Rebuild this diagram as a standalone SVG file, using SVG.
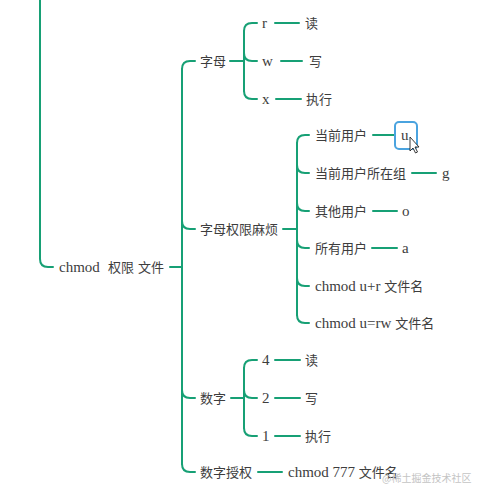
<svg xmlns="http://www.w3.org/2000/svg" width="477" height="488" viewBox="0 0 477 488">
<style>
.t{font-family:"Liberation Serif","Noto Sans CJK SC",serif;font-size:15px;fill:#3d3d3d}
.k{font-family:"Noto Sans CJK SC","Noto Sans",sans-serif;font-size:13px;fill:#3d3d3d}
.c path{fill:none;stroke:#17a075;stroke-width:2;stroke-linecap:round}
.wm{font-family:"Noto Sans CJK SC",sans-serif;font-size:10px;fill:#c4c4c4}
</style>
<rect width="477" height="488" fill="#fff"/>
<g class="c" id="connectors">
<path d="M40,0 L40,259 Q40,267 48,267 L53,267"/>
<path d="M170,267 L182,267"/>
<path d="M182,69 L182,464"/>
<path d="M182,69 Q182,61 190,61 L195,61"/>
<path d="M182,221 Q182,229 190,229 L195,229"/>
<path d="M182,390 Q182,398 190,398 L195,398"/>
<path d="M182,464 Q182,472 190,472 L195,472"/>
<path d="M230,61 L244,61"/>
<path d="M244,31 L244,91"/>
<path d="M244,31 Q244,23 252,23 L257,23"/>
<path d="M244,53 Q244,61 252,61 L257,61"/>
<path d="M244,91 Q244,99 252,99 L257,99"/>
<path d="M275,23 L299,23"/>
<path d="M281,61 L302,61"/>
<path d="M276,99 L301,99"/>
<path d="M283,229 L297,229"/>
<path d="M297,143 L297,315"/>
<path d="M297,143 Q297,135 305,135 L309,135"/>
<path d="M297,165 Q297,173 305,173 L309,173"/>
<path d="M297,203 Q297,211 305,211 L309,211"/>
<path d="M297,240 Q297,248 305,248 L309,248"/>
<path d="M297,278 Q297,286 305,286 L309,286"/>
<path d="M297,315 Q297,323 305,323 L309,323"/>
<path d="M373,135 L396,135"/>
<path d="M412,173 L436,173"/>
<path d="M373,211 L397,211"/>
<path d="M372,248 L397,248"/>
<path d="M231,398 L244,398"/>
<path d="M244,368 L244,428"/>
<path d="M244,368 Q244,360 252,360 L257,360"/>
<path d="M244,390 Q244,398 252,398 L257,398"/>
<path d="M244,428 Q244,436 252,436 L257,436"/>
<path d="M275,360 L300,360"/>
<path d="M275,398 L300,398"/>
<path d="M275,436 L300,436"/>
<path d="M258,472 L282,472"/>
</g>
<g id="root"><text class="t" x="59" y="272">chmod<tspan class="k" x="108">权限</tspan><tspan class="k" x="138">文件</tspan></text></g>
<g id="n-zimu"><text class="k" x="200" y="66">字母</text></g>
<g id="n-r"><text class="t" x="262" y="28">r</text></g>
<g id="n-r-du"><text class="k" x="305" y="28">读</text></g>
<g id="n-w"><text class="t" x="262" y="66">w</text></g>
<g id="n-w-xie"><text class="k" x="309" y="66">写</text></g>
<g id="n-x"><text class="t" x="262" y="104">x</text></g>
<g id="n-x-zx"><text class="k" x="306" y="104">执行</text></g>
<g id="n-zmqx"><text class="k" x="200" y="234">字母权限麻烦</text></g>
<g id="n-dqyh"><text class="k" x="315" y="140">当前用户</text></g>
<g id="n-u">
<rect x="395" y="122" width="22" height="27" rx="4" fill="#fff" stroke="#4aa3df" stroke-width="2"/>
<text class="t" x="401" y="140">u</text>
<path d="M410,137 L410,151 L413,148 L415.5,153 L417.5,152 L415,147 L419,147 Z" fill="#fff" stroke="#222" stroke-width="0.9" stroke-linejoin="round"/>
</g>
<g id="n-dqyhszz"><text class="k" x="315" y="178">当前用户所在组</text></g>
<g id="n-g"><text class="t" x="442" y="178">g</text></g>
<g id="n-qtyh"><text class="k" x="315" y="216">其他用户</text></g>
<g id="n-o"><text class="t" x="402" y="216">o</text></g>
<g id="n-syyh"><text class="k" x="315" y="253">所有用户</text></g>
<g id="n-a"><text class="t" x="402" y="253">a</text></g>
<g id="n-ur"><text class="t" x="315" y="291">chmod u+r <tspan class="k">文件名</tspan></text></g>
<g id="n-urw"><text class="t" x="315" y="328">chmod u=rw <tspan class="k">文件名</tspan></text></g>
<g id="n-shuzi"><text class="k" x="200" y="403">数字</text></g>
<g id="n-4"><text class="t" x="262" y="365">4</text></g>
<g id="n-4-du"><text class="k" x="305" y="365">读</text></g>
<g id="n-2"><text class="t" x="262" y="403">2</text></g>
<g id="n-2-xie"><text class="k" x="305" y="403">写</text></g>
<g id="n-1"><text class="t" x="262" y="441">1</text></g>
<g id="n-1-zx"><text class="k" x="305" y="441">执行</text></g>
<g id="n-szsq"><text class="k" x="200" y="477">数字授权</text></g>
<g id="n-777"><text class="t" x="288" y="477">chmod 777 <tspan class="k">文件名</tspan></text></g>
<text class="wm" x="382" y="482">@稀土掘金技术社区</text>
</svg>
